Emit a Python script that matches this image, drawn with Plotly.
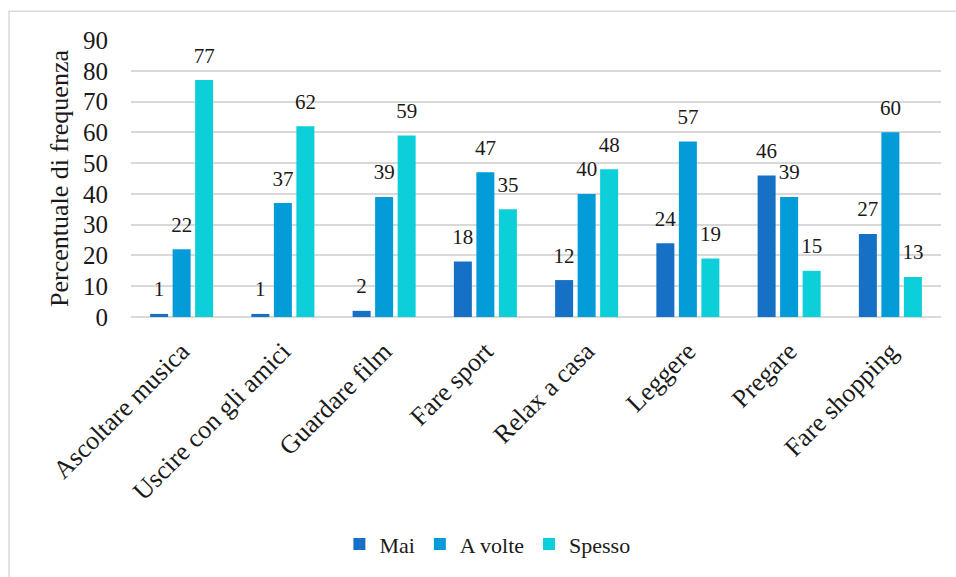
import plotly.graph_objects as go

# Survey: how often each leisure activity is practised (percent of respondents)
categories = ["Ascoltare musica", "Uscire con gli amici", "Guardare film", "Fare sport",
              "Relax a casa", "Leggere", "Pregare", "Fare shopping"]
series_names = ["Mai", "A volte", "Spesso"]
mai = [1, 1, 2, 18, 12, 24, 46, 27]
a_volte = [22, 37, 39, 47, 40, 57, 39, 60]
spesso = [77, 62, 59, 35, 48, 19, 15, 13]
y_ticks = [0, 10, 20, 30, 40, 50, 60, 70, 80, 90]

colors = ["#1570c6", "#039cd8", "#0dcfda"]
FONT = "Liberation Serif"
INK = "#1a1a1a"
GAP = 0.333

fig = go.Figure()
for name, vals, col in zip(series_names, [mai, a_volte, spesso], colors):
    fig.add_trace(go.Bar(
        x=categories, y=vals, name=name,
        marker=dict(color=col, line=dict(width=0)),
        hoverinfo="x+y+name",
    ))

# value labels, grouped the same way as the bars and lifted above each bar top
for name, vals in zip(series_names, [mai, a_volte, spesso]):
    fig.add_trace(go.Scatter(
        x=categories, y=vals, mode="markers+text",
        text=[str(v) for v in vals], textposition="top center",
        textfont=dict(family=FONT, size=21, color=INK),
        marker=dict(size=18, opacity=0),
        showlegend=False, hoverinfo="skip", cliponaxis=False,
    ))

fig.update_layout(
    width=956, height=577,
    margin=dict(l=131, r=15, t=40, b=258),
    paper_bgcolor="white", plot_bgcolor="white",
    barmode="group", bargap=GAP, bargroupgap=0.2,
    scattermode="group", scattergap=GAP,
    font=dict(family=FONT, color=INK),
    showlegend=True,
    legend=dict(orientation="h", x=0.44, xanchor="center", y=-0.82, yanchor="middle",
                font=dict(family=FONT, size=22, color=INK),
                itemwidth=30, traceorder="normal"),
    shapes=[dict(type="rect", xref="paper", yref="paper",
                 x0=-0.1506, x1=1.03, y0=-0.95, y1=1.1039,
                 line=dict(color="#d9d9d9", width=1.5), layer="below")],
)
fig.update_xaxes(
    type="category", range=[-0.5, 7.5], tickangle=-45,
    tickfont=dict(family=FONT, size=26, color=INK),
    showgrid=False, showline=False, ticks="", zeroline=False,
    ticklabelstandoff=13,
)
fig.update_yaxes(
    range=[0, 90], tickvals=y_ticks, ticks="",
    tickfont=dict(family=FONT, size=25, color=INK),
    showgrid=True, gridcolor="#d9d9d9", gridwidth=1.5,
    zeroline=True, zerolinecolor="#d9d9d9", zerolinewidth=1.5,
    ticklabelstandoff=22,
    title=dict(text="Percentuale di frequenza", font=dict(family=FONT, size=26, color=INK), standoff=6),
)

fig.write_html("out.html")
